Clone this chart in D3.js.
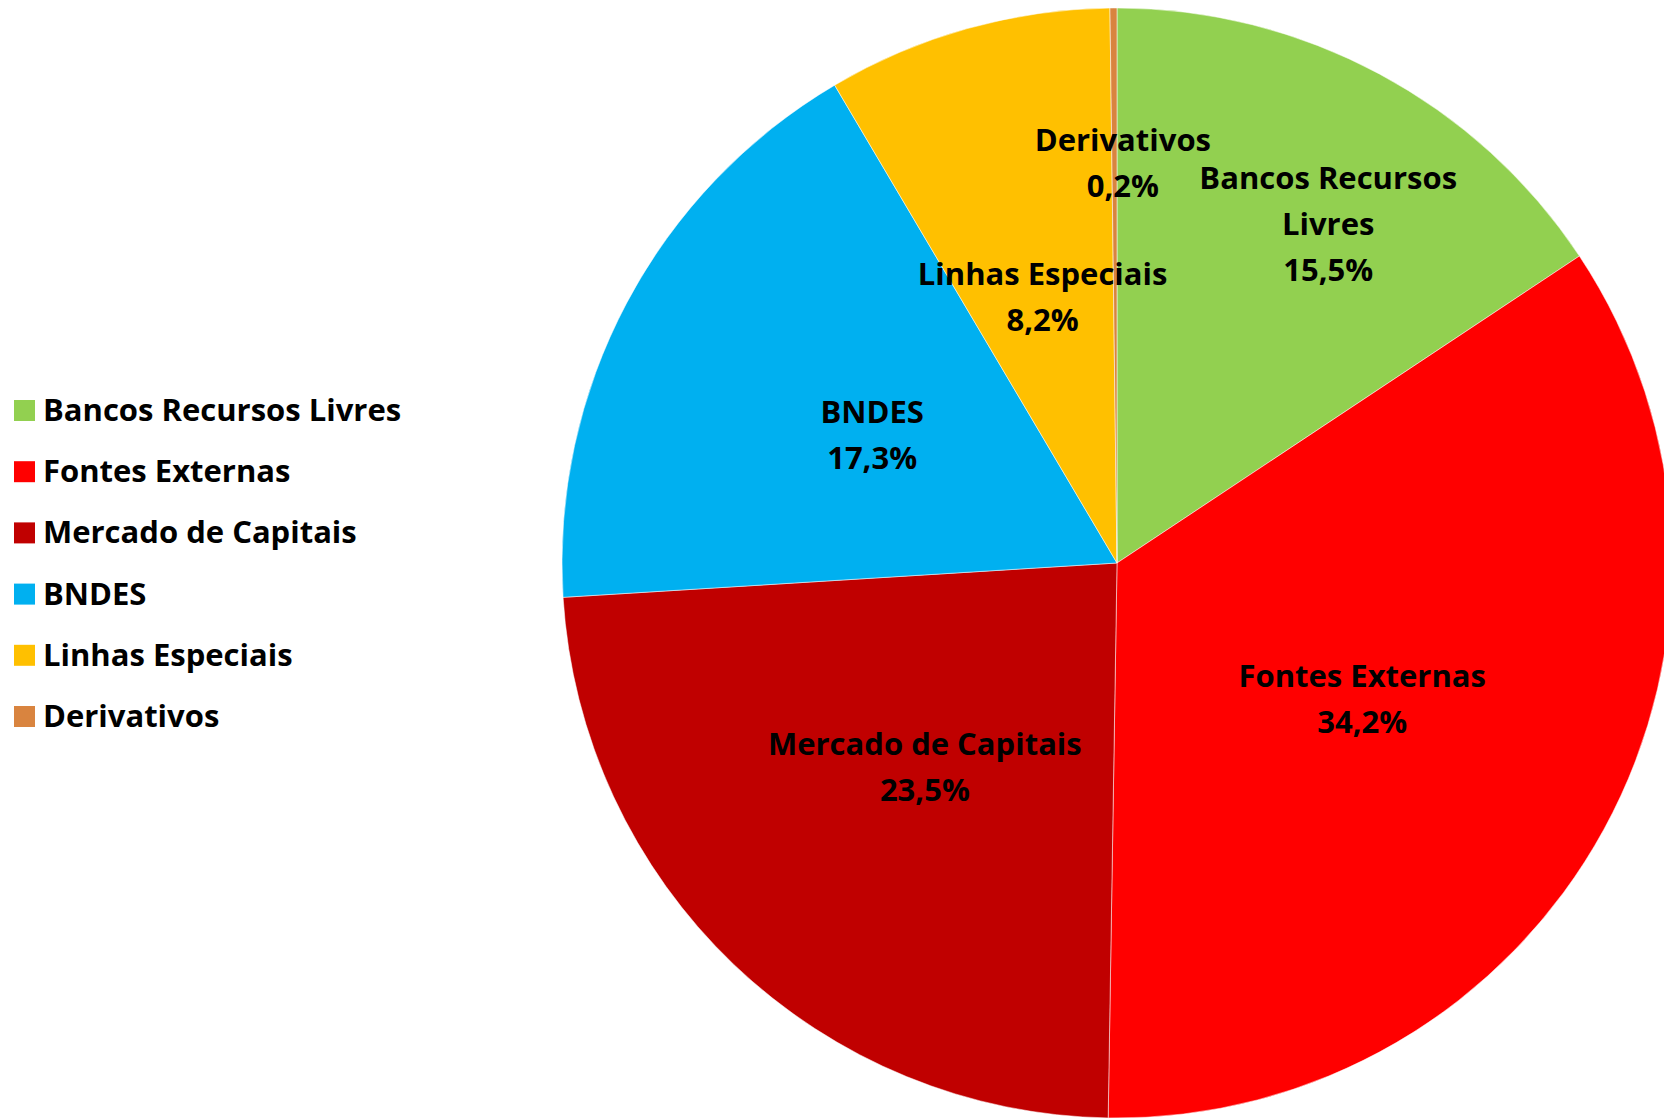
<!DOCTYPE html>
<html>
<head>
<meta charset="utf-8">
<script src="https://cdn.jsdelivr.net/npm/d3@7"></script>
<style>
  body { margin: 0; background: #fff; }
  svg { display: block; }
  text { font-family: "Open Sans", sans-serif; font-weight: bold; fill: #000; }
</style>
</head>
<body>
<svg id="chart" width="1664" height="1119"></svg>
<script>
// fatias, no sentido horario a partir do topo
var categorias = ["Bancos Recursos Livres", "Fontes Externas", "Mercado de Capitais", "BNDES", "Linhas Especiais", "Derivativos"];
var valores = [15.5, 34.2, 23.5, 17.3, 8.2, 0.2];
var cores = ["#92D050", "#FF0000", "#C00000", "#00B0F0", "#FFC000", "#D9843F"];
var rotulos = [["Bancos Recursos", "Livres", "15,5%"], ["Fontes Externas", "34,2%"], ["Mercado de Capitais", "23,5%"],
    ["BNDES", "17,3%"], ["Linhas Especiais", "8,2%"], ["Derivativos", "0,2%"]];

var svg = d3.select("#chart");
var cx = 1117, cy = 563, raio = 555;

var cor = d3.scaleOrdinal().domain(categorias).range(cores);

var pie = d3.pie().sort(null).value(function (d) { return d; });
var arco = d3.arc().innerRadius(0).outerRadius(raio);
var fatias = pie(valores);

var g = svg.append("g").attr("transform", "translate(" + cx + "," + cy + ")");
g.selectAll("path")
    .data(fatias)
    .enter().append("path")
    .attr("d", arco)
    .attr("fill", function (d, i) { return cor(categorias[i]); })
    .attr("stroke", "#fff")
    .attr("stroke-opacity", 0.5)
    .attr("stroke-width", 1);

// posicao dos rotulos: fracao do raio e desvio angular em graus (a olho)
var posRotulo = [[0.72, 3.7], [0.505, 0.3], [0.505, -0.4], [0.498, -0.3], [0.497, 0], [0.72, 1.2]];
var fonte = 31;
var linha = 46;

fatias.forEach(function (d, i) {
    var meio = (d.startAngle + d.endAngle) / 2 + posRotulo[i][1] * Math.PI / 180;
    var r = raio * posRotulo[i][0];
    var x = Math.sin(meio) * r;
    var y = -Math.cos(meio) * r;
    var linhas = rotulos[i];
    var t = g.append("text")
        .attr("text-anchor", "middle")
        .style("font-size", fonte + "px");
    linhas.forEach(function (l, k) {
        t.append("tspan")
            .attr("x", x)
            .attr("y", y + (k - (linhas.length - 1) / 2) * linha + 11)
            .text(l);
    });
});

// legenda
var legenda = svg.append("g").attr("transform", "translate(14, 400)");
var item = legenda.selectAll("g")
    .data(categorias)
    .enter().append("g")
    .attr("transform", function (d, i) { return "translate(0," + (i * 61.2) + ")"; });
item.append("rect")
    .attr("width", 21)
    .attr("height", 21)
    .attr("fill", function (d) { return cor(d); });
item.append("text")
    .attr("x", 29)
    .attr("y", 21)
    .style("font-size", fonte + "px")
    .text(function (d) { return d; });
</script>
</body>
</html>
